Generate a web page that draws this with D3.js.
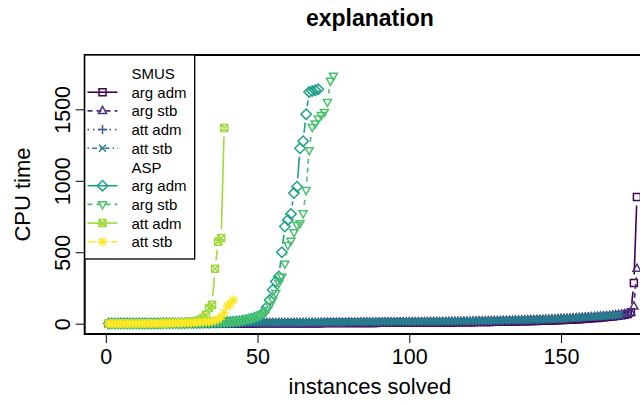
<!DOCTYPE html>
<html><head><meta charset="utf-8">
<script src="https://cdn.jsdelivr.net/npm/d3@7"></script>
<style>body{margin:0;background:#fff}svg{display:block;font-family:"Liberation Sans",Arial,sans-serif}</style>
</head><body><svg id="c" width="640" height="405"></svg>
<script>
const title = "explanation";
const xTitle = "instances solved";
const yTitle = "CPU time";
const xTicks = [0, 50, 100, 150];
const yTicks = [0, 500, 1000, 1500];
const xLimData = [0, 174];
const yLimData = [0, 1808];
const groupNames = ["SMUS", "ASP"];
const seriesNames = ["arg adm", "arg stb", "att adm", "att stb", "arg adm", "arg stb", "att adm", "att stb"];
const seriesGroup = [0, 0, 0, 0, 1, 1, 1, 1];
const colors = ["#440154", "#46337E", "#365C8D", "#277F8E", "#1FA187", "#4AC16D", "#9FDA3A", "#FDE725"];
const symbols = ["square", "triangle", "plus", "cross", "diamond", "triangleDown", "squareCross", "star"];
const dashes = ["none", "5,4", "1.5,4", "1.5,3,5,3", "none", "5,4", "none", "8,4"];

const smusArgAdm = [0.1,0.1,0.1,0.2,0.2,0.2,0.2,0.3,0.3,0.3,
0.3,0.4,0.4,0.4,0.5,0.5,0.5,0.6,0.6,0.6,
0.7,0.7,0.7,0.8,0.8,0.9,0.9,0.9,1.0,1.0,
1.1,1.1,1.2,1.2,1.3,1.3,1.4,1.4,1.5,1.5,
1.6,1.6,1.7,1.7,1.8,1.9,1.9,2.0,2.0,2.1,
2.2,2.2,2.3,2.4,2.4,2.5,2.6,2.6,2.7,2.8,
2.9,2.9,3.0,3.1,3.2,3.3,3.3,3.4,3.5,3.6,
3.7,3.8,3.9,4.0,4.1,4.2,4.3,4.4,4.5,4.6,
4.7,4.8,4.9,5.0,5.1,5.2,5.3,5.4,5.5,5.6,5.7,5.8,5.9,6.0,6.1,
6.2,6.3,6.4,6.5,6.7,6.8,7.0,7.2,7.3,7.4,
7.5,7.7,7.9,8.0,8.2,8.4,8.6,8.8,9.0,9.3,
9.5,9.7,10.0,10.2,10.5,10.7,11.0,11.3,11.6,11.9,
12.2,12.5,12.9,13.2,13.6,14.0,14.4,14.8,15.2,15.7,
16.1,16.6,17.1,17.6,18.2,18.8,19.4,20.0,20.7,21.4,
22.1,22.9,23.7,24.5,25.4,26.3,27.3,28.3,29.4,30.5,
31.7,33.0,34.3,35.7,37.2,38.8,40.5,42.3,44.2,46.2,
48.4,50.7,53.2,55.9,58.8,62.0,68.0,80.0,284,886];

const smusArgStb = [0.2,0.2,0.3,0.3,0.3,0.4,0.4,0.4,0.5,0.5,
0.5,0.6,0.6,0.7,0.7,0.7,0.8,0.8,0.9,0.9,
1.0,1.0,1.1,1.1,1.2,1.2,1.3,1.3,1.4,1.4,
1.5,1.5,1.6,1.7,1.7,1.8,1.8,1.9,2.0,2.0,
2.1,2.2,2.2,2.3,2.4,2.4,2.5,2.6,2.7,2.7,
2.8,2.9,3.0,3.1,3.1,3.2,3.3,3.4,3.5,3.6,
3.7,3.8,3.9,4.0,4.1,4.2,4.3,4.4,4.5,4.6,
4.7,4.8,5.0,5.1,5.2,5.3,5.5,5.6,5.7,5.9,
6.0,6.2,6.3,6.5,6.6,6.8,6.9,7.1,7.3,7.4,7.5,7.6,7.7,7.8,7.9,
8.0,8.2,8.4,8.6,8.8,9.0,9.2,9.4,9.6,9.9,
10.1,10.3,10.6,10.8,11.1,11.4,11.6,11.9,12.2,12.5,
12.8,13.1,13.5,13.8,14.2,14.5,14.9,15.3,15.7,16.1,
16.5,16.9,17.4,17.8,18.3,18.8,19.3,19.8,20.3,20.9,
21.5,22.1,22.7,23.3,24.0,24.7,25.4,26.1,26.9,27.7,
28.5,29.3,30.2,31.1,32.1,33.1,34.1,35.2,36.3,37.5,
38.7,40.0,41.3,42.7,44.2,45.7,47.3,49.0,50.8,52.7,
54.7,56.8,59.0,61.4,64.0,66.7,70.0,78.0,121,384];

const smusAttAdm = [1.5,1.6,1.8,1.9,2.0,2.1,2.3,2.4,2.5,2.6,
2.8,2.9,3.0,3.1,3.2,3.4,3.5,3.6,3.7,3.8,
3.9,4.0,4.1,4.2,4.3,4.4,4.5,4.6,4.7,4.8,
4.9,5.0,5.1,5.2,5.3,5.4,5.5,5.6,5.7,5.8,
5.9,6.0,6.1,6.2,6.3,6.4,6.5,6.6,6.7,6.8,
6.9,7.0,7.1,7.2,7.3,7.4,7.5,7.6,7.7,7.8,
7.9,8.0,8.1,8.2,8.3,8.4,8.5,8.6,8.7,8.8,
8.9,9.0,9.1,9.2,9.3,9.4,9.5,9.6,9.7,9.8,
9.9,10.0,10.1,10.2,10.4,10.5,10.6,10.7,10.9,11.0,
11.1,11.3,11.4,11.5,11.7,11.8,12.0,12.1,12.3,12.4,
12.6,12.8,12.9,13.1,13.3,13.5,13.7,13.9,14.1,14.3,
14.5,14.7,15.0,15.2,15.4,15.7,15.9,16.2,16.5,16.8,
17.1,17.4,17.7,18.0,18.4,18.7,19.1,19.5,19.9,20.3,
20.7,21.2,21.7,22.2,22.7,23.3,23.9,24.5,25.1,25.8,
26.5,27.2,28.0,28.8,29.7,30.6,31.6,32.6,33.7,34.9,
36.1,37.4,38.8,40.3,41.9,43.6,45.4,47.3,49.3,50.4,
51.2,52.1,53.0,54.0,55.0,56.1,57.3,58.6,60.0,62.0];

const smusAttStb = [2.0,2.2,2.4,2.5,2.7,2.8,3.0,3.1,3.3,3.4,
3.6,3.7,3.9,4.0,4.1,4.3,4.4,4.5,4.7,4.8,
4.9,5.1,5.2,5.3,5.5,5.6,5.7,5.8,6.0,6.1,
6.2,6.3,6.5,6.6,6.7,6.8,7.0,7.1,7.2,7.3,
7.5,7.6,7.7,7.8,8.0,8.1,8.2,8.3,8.5,8.6,
8.7,8.8,9.0,9.1,9.2,9.4,9.5,9.6,9.8,9.9,
10.0,10.2,10.3,10.4,10.6,10.7,10.9,11.0,11.1,11.3,
11.4,11.6,11.7,11.9,12.0,12.2,12.3,12.5,12.6,12.8,
13.0,13.1,13.3,13.5,13.6,13.8,14.0,14.2,14.4,14.5,
14.7,14.8,15.0,15.1,15.3,15.4,15.6,15.7,15.9,16.0,
16.2,16.3,16.5,16.6,16.8,16.9,17.1,17.2,17.4,17.5,
17.7,17.9,18.0,18.2,18.4,18.6,18.8,19.0,19.2,19.4,
19.5,19.8,20.1,20.4,20.7,21.1,21.4,21.8,22.2,22.6,
23.0,23.4,23.8,24.3,24.7,25.2,25.7,26.2,26.8,27.3,
27.9,28.5,29.1,29.8,30.5,31.2,32.0,32.8,33.6,34.5,
35.4,36.4,37.4,38.5,39.6,40.8,42.0,43.3,44.7,46.1,
47.6,49.2,50.9,52.7,54.6,56.6,58.7,60.9,63.2];

const aspArgAdm = [0.3,0.4,0.4,0.5,0.6,0.6,0.7,0.8,0.9,1.0,
1.1,1.2,1.3,1.4,1.6,1.7,1.9,2.0,2.2,2.4,
2.6,2.8,3.0,3.3,3.5,3.8,4.1,4.4,4.8,5.2,
5.6,6.0,6.5,7.0,7.6,8.2,8.9,9.6,10.4,11.3,
12.3,13.5,15,17,20,24,29,35,42,48,
55,80,115,165,237,295,330,500,680,726,
768,914,958,1228,1277,1466,1622,1628,1634,1640];

const aspArgStb = [0.5,0.6,0.7,0.8,0.9,1.0,1.1,1.3,1.4,1.5,
1.7,1.8,2.0,2.2,2.4,2.6,2.8,3.0,3.3,3.5,
3.8,4.1,4.4,4.7,5.1,5.5,5.9,6.3,6.8,7.3,
7.8,8.4,9.0,9.7,10.4,11.2,12.0,12.9,13.9,15.0,
16,18,20,23,26,30,34,39,45,52,
62,75,95,125,165,214,284,330,420,551,
580,640,691,702,772,935,1214,1377,1400,1435,
1460,1482,1552,1700,1735];

const aspAttAdm = [0.4,0.5,0.6,0.7,0.8,0.9,1.0,1.2,1.3,1.5,
1.7,1.9,2.1,2.4,2.7,3.0,3.4,3.8,4.3,4.8,
5.4,6.1,6.9,7.8,8.8,10,11.5,13.5,16,20,
28,40,63,110,133,384,574,600,1370];

const aspAttStb = [0.2,0.3,0.3,0.4,0.5,0.5,0.6,0.7,0.8,0.9,
1.0,1.1,1.2,1.4,1.5,1.7,1.9,2.1,2.3,2.6,
2.9,3.2,3.5,3.9,4.3,4.8,5.3,5.9,6.6,7.4,
9.3,10.5,12,14,17,22,30,48,75,121,
140,165];

const seriesValues = [smusArgAdm, smusArgStb, smusAttAdm, smusAttStb, aspArgAdm, aspArgStb, aspAttAdm, aspAttStb];

// ---- layout ----
const W = 640, H = 405;
const plotL = 84.7, plotT = 55, plotB = 334, plotR = 655;
const padX = (xLimData[1] - xLimData[0]) * 0.04;
const padY = (yLimData[1] - yLimData[0]) * 0.04;
const x = d3.scaleLinear().domain([xLimData[0] - padX, xLimData[1] + padX]).range([plotL, plotR]);
const y = d3.scaleLinear().domain([yLimData[0] - padY, yLimData[1] + padY]).range([plotB, plotT]);

const svg = d3.select("#c");

function symbolPath(kind) {
  const s = 3.5, r = 4.6, d = 5.2;
  switch (kind) {
    case "square": return `M${-s},${-s}H${s}V${s}H${-s}Z`;
    case "triangle": return `M0,${-r}L${r*0.87},${r*0.55}L${-r*0.87},${r*0.55}Z`;
    case "triangleDown": return `M0,${r}L${r*0.87},${-r*0.55}L${-r*0.87},${-r*0.55}Z`;
    case "plus": return `M${-r},0H${r}M0,${-r}V${r}`;
    case "cross": return `M${-s},${-s}L${s},${s}M${-s},${s}L${s},${-s}`;
    case "diamond": return `M0,${-d}L${d},0L0,${d}L${-d},0Z`;
    case "squareCross": return `M${-s},${-s}H${s}V${s}H${-s}ZM${-s},${-s}L${s},${s}M${-s},${s}L${s},${-s}`;
    case "star": return `M${-r},0H${r}M0,${-r}V${r}M${-s},${-s}L${s},${s}M${-s},${s}L${s},${-s}`;
  }
}

svg.append("defs").append("clipPath").attr("id", "pc")
  .append("rect").attr("x", plotL).attr("y", plotT).attr("width", plotR - plotL).attr("height", plotB - plotT);

const plotG = svg.append("g").attr("clip-path", "url(#pc)");
const gap = 8.5;
seriesValues.forEach((vals, si) => {
  const g = plotG.append("g");
  const pts = vals.map((v, i) => [x(i + 1), y(v)]);
  // type = "b": line segments with gaps around the points
  const segs = [];
  for (let i = 0; i < pts.length - 1; i++) {
    const [x0, y0] = pts[i], [x1, y1] = pts[i + 1];
    const dx = x1 - x0, dy = y1 - y0, L = Math.hypot(dx, dy);
    if (L > 2 * gap) {
      const ux = dx / L, uy = dy / L;
      segs.push([x0 + ux * gap, y0 + uy * gap, x1 - ux * gap, y1 - uy * gap]);
    }
  }
  g.selectAll("line").data(segs).join("line")
    .attr("x1", d => d[0]).attr("y1", d => d[1]).attr("x2", d => d[2]).attr("y2", d => d[3])
    .attr("stroke", colors[si]).attr("stroke-width", 1.6)
    .attr("stroke-dasharray", dashes[si]);
  g.selectAll("path").data(pts).join("path")
    .attr("transform", d => `translate(${d[0]},${d[1]})`)
    .attr("d", symbolPath(symbols[si]))
    .attr("fill", "none").attr("stroke", colors[si]).attr("stroke-width", 1.5);
});

// box
svg.append("rect").attr("x", plotL).attr("y", plotT).attr("width", plotR - plotL).attr("height", plotB - plotT)
  .attr("fill", "none").attr("stroke", "#000").attr("stroke-width", 2);

// axes
const xAxis = d3.axisBottom(x).tickValues(xTicks).tickSize(9).tickPadding(6).tickFormat(d3.format("d"));
const gx = svg.append("g").attr("transform", `translate(0,${plotB})`).call(xAxis);
gx.select(".domain").remove();
gx.selectAll(".tick line").attr("stroke", "#000").attr("stroke-width", 1);
gx.selectAll(".tick text").attr("font-size", 21.5).attr("fill", "#000").attr("font-family", "Liberation Sans, Arial, sans-serif").attr("dy", "0.71em");

const yAxis = d3.axisLeft(y).tickValues(yTicks).tickSize(9).tickFormat(d3.format("d"));
const gy = svg.append("g").attr("transform", `translate(${plotL},0)`).call(yAxis);
gy.select(".domain").remove();
gy.selectAll(".tick line").attr("stroke", "#000").attr("stroke-width", 1);
gy.selectAll(".tick text").attr("font-size", 21.5).attr("fill", "#000").attr("font-family", "Liberation Sans, Arial, sans-serif")
  .attr("x", 0).attr("dy", null).attr("text-anchor", "middle").attr("dominant-baseline", "central")
  .attr("transform", "translate(-22,0) rotate(-90)");

// titles
const cx = (plotL + plotR) / 2;
svg.append("text").attr("x", cx).attr("y", 18).attr("text-anchor", "middle").attr("dominant-baseline", "central")
  .attr("font-size", 23).attr("font-weight", "bold").text(title);
svg.append("text").attr("x", cx).attr("y", 386).attr("text-anchor", "middle").attr("dominant-baseline", "central")
  .attr("font-size", 22).text(xTitle);
svg.append("text").attr("transform", `translate(22,${(plotT + plotB) / 2}) rotate(-90)`).attr("text-anchor", "middle")
  .attr("dominant-baseline", "central").attr("font-size", 22).text(yTitle);

// legend
const legRows = [];
groupNames.forEach((gname, gi) => {
  legRows.push({ label: gname, si: -1 });
  seriesNames.forEach((n, si) => { if (seriesGroup[si] === gi) legRows.push({ label: n, si }); });
});
const legX = plotL, legY = plotT, legW = 110, rowH = 18.7, legTop = 73.5;
const legH = 204;
const lg = svg.append("g");
lg.append("rect").attr("x", legX).attr("y", legY).attr("width", legW).attr("height", legH)
  .attr("fill", "#fff").attr("stroke", "#000").attr("stroke-width", 1.3);
legRows.forEach((r, i) => {
  const yy = legTop + i * rowH;
  if (r.si >= 0) {
    lg.append("line").attr("x1", 87.5).attr("x2", 117.5).attr("y1", yy).attr("y2", yy)
      .attr("stroke", colors[r.si]).attr("stroke-width", 1.6).attr("stroke-dasharray", dashes[r.si]);
    lg.append("path").attr("transform", `translate(102.5,${yy})`).attr("d", symbolPath(symbols[r.si]))
      .attr("fill", "none").attr("stroke", colors[r.si]).attr("stroke-width", 1.5);
  }
  lg.append("text").attr("x", 131.5).attr("y", yy).attr("dominant-baseline", "central")
    .attr("font-size", 15).text(r.label);
});
</script></body></html>
